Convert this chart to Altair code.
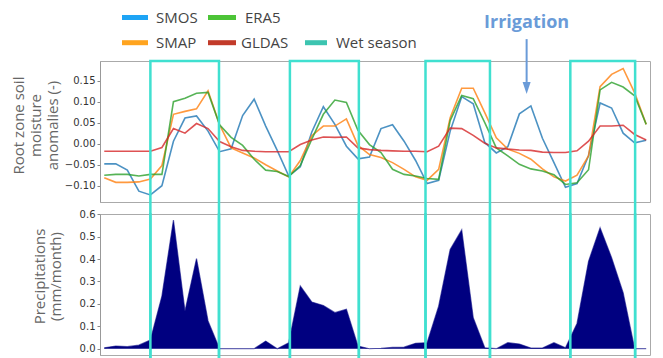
import altair as alt
import pandas as pd

# ---------------- data ----------------
months = list(range(48))
smos = [-0.048, -0.048, -0.063, -0.113, -0.122, -0.100, 0.006, 0.061, 0.066, 0.030,
        -0.019, -0.012, 0.067, 0.106, 0.042, -0.016, -0.077, -0.055, 0.028, 0.088,
        0.046, -0.006, -0.036, -0.032, 0.036, 0.045, 0.006, -0.040, -0.095, -0.087,
        0.030, 0.112, 0.095, 0.003, -0.022, -0.007, 0.071, 0.090, 0.013, -0.045,
        -0.104, -0.095, -0.028, 0.097, 0.085, 0.025, 0.002, 0.008]
era5 = [-0.075, -0.073, -0.073, -0.077, -0.073, -0.073, 0.100, 0.108, 0.120, 0.122,
        0.045, 0.015, -0.004, -0.037, -0.063, -0.066, -0.078, -0.052, 0.011, 0.070,
        0.104, 0.098, 0.032, -0.002, -0.021, -0.061, -0.073, -0.077, -0.083, -0.085,
        0.055, 0.115, 0.107, 0.050, -0.010, -0.029, -0.049, -0.060, -0.065, -0.074,
        -0.097, -0.093, -0.062, 0.128, 0.146, 0.135, 0.114, 0.046]
smap = [-0.081, -0.092, -0.092, -0.091, -0.084, -0.052, 0.070, 0.077, 0.083, 0.126,
        0.045, -0.010, -0.022, -0.034, -0.050, -0.065, -0.079, -0.040, 0.019, 0.042,
        0.042, 0.059, -0.004, -0.026, -0.033, -0.045, -0.061, -0.079, -0.087, -0.061,
        0.062, 0.132, 0.132, 0.074, 0.014, -0.013, -0.023, -0.037, -0.060, -0.079,
        -0.089, -0.075, -0.029, 0.136, 0.165, 0.179, 0.121, 0.046]
gldas = [-0.018, -0.018, -0.018, -0.018, -0.018, -0.009, 0.036, 0.025, 0.048, 0.036,
         0.005, -0.007, -0.016, -0.018, -0.019, -0.019, -0.019, -0.002, 0.009, 0.016,
         0.015, 0.016, -0.010, -0.014, -0.016, -0.017, -0.018, -0.018, -0.019, -0.006,
         0.037, 0.036, 0.020, 0.001, -0.010, -0.013, -0.015, -0.016, -0.020, -0.021,
         -0.021, -0.017, 0.006, 0.042, 0.042, 0.044, 0.022, 0.009]
precip = [0.004, 0.012, 0.009, 0.016, 0.039, 0.235, 0.574, 0.168, 0.402, 0.124,
          0.0, 0.0, 0.0, 0.0, 0.034, 0.0, 0.027, 0.280, 0.208, 0.193,
          0.161, 0.176, 0.012, 0.0, 0.002, 0.006, 0.007, 0.024, 0.027, 0.190,
          0.443, 0.530, 0.138, 0.004, 0.0, 0.027, 0.021, 0.003, 0.003, 0.027,
          0.004, 0.113, 0.390, 0.540, 0.406, 0.250, 0.0, 0.0]

series_order = ["SMOS", "SMAP", "ERA5", "GLDAS"]
series_values = {"SMOS": smos, "SMAP": smap, "ERA5": era5, "GLDAS": gldas}
line_colors = {"SMOS": "#1f77b4", "SMAP": "#ff7f0e", "ERA5": "#2ca02c", "GLDAS": "#d62728"}

wet_start = [4.0, 16.1, 27.86, 40.42]
wet_end = [9.95, 22.08, 33.45, 46.04]

irr_t = [36.63]
irr_label = ["Irrigation"]

legend_labels = ["SMOS", "ERA5", "SMAP", "GLDAS", "Wet season"]
legend_colors = ["#1ea4f5", "#4cc437", "#ffa41f", "#c23b2a", "#3cc4b0"]

WET = "#40E0D0"
W, H = 550, 141

# ---------------- scales ----------------
xsc = alt.Scale(domain=[-0.37, 47.33], nice=False, zero=False)
ysc_top = alt.Scale(domain=[-0.1388, 0.1969], nice=False, zero=False)
ysc_bot = alt.Scale(domain=[-0.028, 0.601], nice=False, zero=False)

top_title = ["Root zone soil", "moisture", "anomalies (-)"]
bot_title = ["Precipitations", "(mm/month)"]

yaxis_top = alt.Axis(values=[-0.10, -0.05, 0.0, 0.05, 0.10, 0.15], format=".2f",
                     titleX=-82, titleY=64, titleBaseline="middle", titleAlign="center",
                     titleLineHeight=17)
yaxis_bot = alt.Axis(values=[0.0, 0.1, 0.2, 0.3, 0.4, 0.5, 0.6], format=".1f",
                     titleX=-61, titleY=62, titleBaseline="middle", titleAlign="center",
                     titleLineHeight=16)

X = alt.X("t:Q", scale=xsc, axis=None)
Ytop = alt.Y("value:Q", scale=ysc_top, axis=yaxis_top, title=top_title)

# ---------------- top panel ----------------
layers = []
for name in series_order:
    df = pd.DataFrame({"t": months, "value": series_values[name]})
    layers.append(
        alt.Chart(df).mark_line(color=line_colors[name], strokeWidth=1.6, opacity=0.8)
        .encode(x=X, y=Ytop)
    )

wet_df = pd.DataFrame({"s": wet_start, "e": wet_end})
layers.append(
    alt.Chart(wet_df).mark_rect(fillOpacity=0, stroke=WET, strokeWidth=2.5)
    .encode(x=alt.X("s:Q", scale=xsc, axis=None), x2="e:Q",
            y=alt.value(0), y2=alt.value(305))
)

irr_col = "#6a9bd8"
ann_line = pd.DataFrame({"t": irr_t, "value": [0.249], "value2": [0.147]})
ann_head = pd.DataFrame({"t": irr_t, "value": [0.1326]})
ann_text = pd.DataFrame({"t": irr_t, "value": [0.287], "label": irr_label})
layers.append(
    alt.Chart(ann_line).mark_rule(color=irr_col, strokeWidth=2)
    .encode(x=X, y=Ytop, y2="value2:Q")
)
layers.append(
    alt.Chart(ann_head).mark_point(shape="M-0.67,-1L0.67,-1L0,1Z", size=144,
                                   filled=True, color=irr_col, opacity=1)
    .encode(x=X, y=Ytop)
)
layers.append(
    alt.Chart(ann_text).mark_text(font="Open Sans", fontSize=18, fontWeight="bold",
                                  color=irr_col, align="center", baseline="middle")
    .encode(x=X, y=Ytop, text="label:N")
)

# legend (drawn above the plot area)
sw_x0 = [22, 108, 22, 108, 205]
sw_x1 = [48, 136, 48, 136, 227]
sw_y = [-43.5, -43.5, -18.3, -18.3, -18.3]
tx_x = [56, 145, 56, 141, 236]
for i, lab in enumerate(legend_labels):
    one = pd.DataFrame({"label": [lab]})
    layers.append(
        alt.Chart(one).mark_rule(color=legend_colors[i], strokeWidth=5)
        .encode(x=alt.value(sw_x0[i]), x2=alt.value(sw_x1[i]), y=alt.value(sw_y[i]))
    )
    layers.append(
        alt.Chart(one).mark_text(font="Open Sans", fontSize=15, color="#444",
                                 align="left", baseline="middle")
        .encode(x=alt.value(tx_x[i]), y=alt.value(sw_y[i]), text="label:N")
    )

top = alt.layer(*layers).properties(width=W, height=H)

# ---------------- bottom panel ----------------
pdf = pd.DataFrame({"t": months, "value": precip})
Ybot = alt.Y("value:Q", scale=ysc_bot, axis=yaxis_bot, title=bot_title)
area = alt.Chart(pdf).mark_area(color="#000080", opacity=1).encode(x=X, y=Ybot)
base_line = alt.Chart(pdf).mark_line(color="#000080", strokeWidth=1.2, opacity=0.6).encode(x=X, y=Ybot)
edge_df = pd.DataFrame({"t": wet_start + wet_end})
edges = alt.Chart(edge_df).mark_rule(color=WET, strokeWidth=2.5).encode(
    x=X, y=alt.value(-1), y2=alt.value(150))
bottom = alt.layer(area, base_line, edges).properties(width=W, height=H)

chart = (
    alt.vconcat(top, bottom, spacing=12, bounds="flush")
    .properties(padding={"left": 2, "top": 2, "right": 4, "bottom": 0})
    .configure_view(stroke="#aaaaaa")
    .configure_axis(labelFont="DejaVu Sans", labelFontSize=10, labelColor="#333",
                    titleFont="Open Sans", titleFontSize=15, titleColor="#666",
                    titleFontWeight="normal", tickSize=3, tickColor="#888",
                    domainColor="#999", grid=False, labelPadding=2)
)

chart.save("out.html", embed_options={"renderer": "svg", "actions": False})
